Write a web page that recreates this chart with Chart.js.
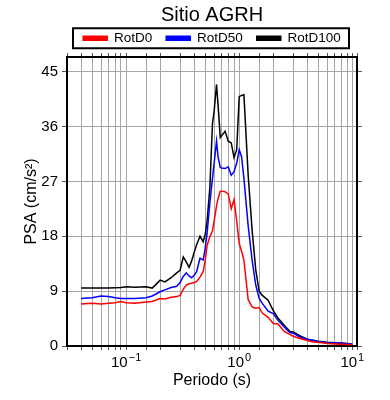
<!DOCTYPE html>
<html><head><meta charset="utf-8">
<script src="https://cdn.jsdelivr.net/npm/chart.js@4.4.1/dist/chart.umd.min.js"></script>
<style>html,body{margin:0;padding:0;background:#fff}</style>
</head><body>
<canvas id="c" width="390" height="400" style="display:block;width:390px;height:400px"></canvas>
<script>
const titleText = 'Sitio AGRH';
const xTitle = 'Periodo (s)';
const yTitle = 'PSA (cm/s²)';
const seriesNames = ['RotD0', 'RotD50', 'RotD100'];
const seriesColors = ['#ff0000', '#0000ff', '#000000'];
const yTicks = [0, 9, 18, 27, 36, 45];
const xDecades = [0.1, 1, 10];
const xDecadeExponents = ['−1', '0', '1'];

const periods = [0.04,0.05,0.06,0.07,0.08,0.09,0.1,0.12,0.15,0.17,0.2,0.22,0.25,0.28,0.3,0.32,0.34,0.36,0.38,0.4,0.42,0.45,0.48,0.5,0.52,0.55,0.58,0.6,0.63,0.65,0.68,0.7,0.75,0.8,0.85,0.9,0.95,1.0,1.05,1.1,1.2,1.3,1.4,1.5,1.6,1.8,2.0,2.2,2.5,2.8,3.0,3.5,4.0,4.5,5,6,7,8,9,10];

const rotD0 = [6.9,7.0,6.9,7.0,7.1,7.3,7.1,7.0,7.2,7.3,7.8,7.7,8.0,8.1,8.3,9.3,10.0,10.2,10.3,10.4,10.6,11.3,12.2,14.0,16.5,17.9,18.9,20.5,23.0,24.2,25.4,25.4,25.3,24.9,22.5,24.0,20.5,16.8,15.5,14.1,7.6,6.4,6.2,6.3,5.4,4.7,3.7,3.6,2.4,1.9,1.6,1.2,0.9,0.65,0.6,0.4,0.33,0.28,0.23,0.2];

const rotD50 = [7.8,7.9,8.2,8.1,7.9,7.8,7.8,7.8,7.9,8.2,8.9,9.2,9.6,9.8,10.4,11.4,12.0,11.5,11.2,11.6,12.2,14.4,14.1,16.0,18.5,23.5,27.5,30.0,33.6,31.0,29.3,29.2,29.1,29.4,28.0,28.6,30.0,32.2,31.0,27.5,19.7,14.1,10.0,7.8,7.0,5.7,5.3,4.2,3.1,2.2,2.1,1.4,1.1,0.9,0.7,0.55,0.5,0.45,0.35,0.3];

const rotD100 = [9.5,9.5,9.5,9.5,9.55,9.6,9.7,9.65,9.7,9.5,10.8,10.5,11.2,12.0,12.4,14.6,13.8,12.9,14.0,15.4,16.6,18.0,17.1,18.3,20.5,26.0,36.5,38.5,42.9,39.5,34.2,34.5,35.2,33.6,33.3,30.9,32.2,40.9,41.1,41.2,28.0,19.0,12.5,9.0,8.3,7.5,5.8,4.6,3.4,2.4,2.3,1.6,1.1,0.95,0.8,0.6,0.55,0.5,0.4,0.3];

const seriesValues = [rotD0, rotD50, rotD100];

const fontFamily = "'Liberation Sans', Arial, 'DejaVu Sans', sans-serif";
Chart.defaults.font.family = fontFamily;
Chart.defaults.color = '#000';

const gridColor = '#a6a6a6';

const legendFrame = {
  id: 'legendFrame',
  afterDraw(chart) {
    const lg = chart.legend, ca = chart.chartArea, ctx = chart.ctx;
    const hb = lg.legendHitBoxes[0];
    const cy = hb.top + hb.height / 2;
    ctx.save();
    ctx.strokeStyle = '#000';
    ctx.lineWidth = 2;
    ctx.strokeRect(ca.left + 6, cy - 10, ca.width - 14, 20);
    ctx.restore();
  }
};

// power-of-ten tick labels with real superscripts, placed by the x scale
const decadeLabels = {
  id: 'decadeLabels',
  afterDraw(chart) {
    const s = chart.scales.x, ctx = chart.ctx;
    const baseY = s.top + 21;
    ctx.save();
    ctx.fillStyle = '#000';
    ctx.textBaseline = 'alphabetic';
    ctx.textAlign = 'left';
    xDecades.forEach((v, i) => {
      const px = s.getPixelForValue(v);
      ctx.font = '15px ' + fontFamily;
      const wBase = ctx.measureText('10').width;
      ctx.font = '11px ' + fontFamily;
      const wExp = ctx.measureText(xDecadeExponents[i]).width;
      const x0 = px - (wBase + wExp + 1) / 2;
      ctx.font = '15px ' + fontFamily;
      ctx.fillText('10', x0, baseY);
      ctx.font = '11px ' + fontFamily;
      ctx.fillText(xDecadeExponents[i], x0 + wBase + 1, baseY - 6);
    });
    ctx.restore();
  }
};

new Chart(document.getElementById('c'), {
  type: 'line',
  data: {
    datasets: seriesNames.map((name, i) => ({
      label: name,
      data: periods.map((p, j) => ({x: p, y: seriesValues[i][j]})),
      borderColor: seriesColors[i],
      backgroundColor: seriesColors[i],
      borderWidth: 1.5,
      pointRadius: 0,
      tension: 0
    }))
  },
  options: {
    responsive: false,
    animation: false,
    devicePixelRatio: 1,
    layout: { padding: { left: 0, right: 28, top: 0, bottom: 0 }, autoPadding: false },
    plugins: {
      tooltip: { enabled: false },
      title: {
        display: true, text: titleText, fullSize: false,
        font: { size: 20, weight: 'normal' }, color: '#000',
        padding: { top: 3, bottom: -9.5 }
      },
      legend: {
        display: true, fullSize: false, maxHeight: 35.5,
        labels: { boxWidth: 24, boxHeight: 4, padding: 14, font: { size: 13.5 }, color: '#000' }
      }
    },
    scales: {
      x: {
        type: 'logarithmic', position: 'bottom', min: 0.03, max: 11,
        afterFit(s) { s.height = 54; },
        grid: { color: gridColor, lineWidth: 1, tickLength: 4, tickColor: '#555' },
        border: { color: '#000', width: 2 },
        ticks: { display: false, autoSkip: false },
        title: { display: true, text: xTitle, font: { size: 16 }, padding: { top: 0, bottom: 10 } }
      },
      x2: {
        type: 'logarithmic', position: 'top', min: 0.03, max: 11,
        afterFit(s) { s.height = 4; },
        grid: { drawOnChartArea: false, tickLength: 4, tickColor: '#555' },
        border: { color: '#000', width: 2 },
        ticks: { display: false, autoSkip: false }
      },
      y: {
        type: 'linear', position: 'left', min: 0, max: 47.4,
        afterFit(s) { s.width = 67; },
        afterBuildTicks(s) { s.ticks = yTicks.map(v => ({ value: v })); },
        grid: { color: gridColor, lineWidth: 1, tickLength: 5, tickColor: '#555' },
        border: { color: '#000', width: 2 },
        ticks: { padding: 4, font: { size: 15 } },
        title: { display: true, text: yTitle, font: { size: 16 }, padding: { top: 22, bottom: 0 } }
      },
      y2: {
        type: 'linear', position: 'right', min: 0, max: 47.4,
        afterFit(s) { s.width = 5; },
        afterBuildTicks(s) { s.ticks = yTicks.map(v => ({ value: v })); },
        grid: { drawOnChartArea: false, tickLength: 5, tickColor: '#555' },
        border: { color: '#000', width: 2 },
        ticks: { display: false }
      }
    }
  },
  plugins: [legendFrame, decadeLabels]
});
</script>
</body></html>
